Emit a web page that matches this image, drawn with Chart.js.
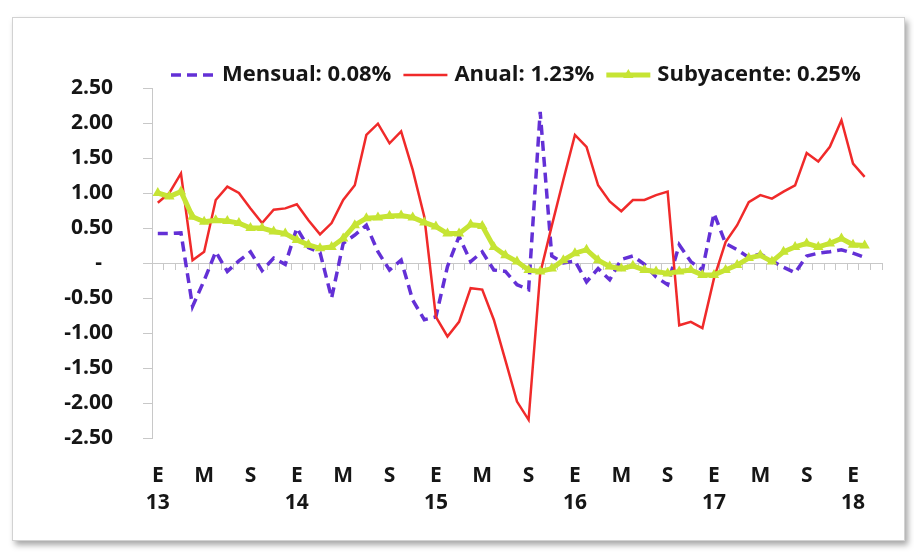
<!DOCTYPE html>
<html lang="es">
<head>
<meta charset="utf-8">
<title>Inflación mensual, anual y subyacente</title>
<script src="https://cdn.jsdelivr.net/npm/chart.js@4.4.1/dist/chart.umd.min.js"></script>
<style>
  html, body { margin: 0; padding: 0; background: #fff; }
  body { width: 914px; height: 559px; position: relative; overflow: hidden; }
  #marco {
    position: absolute; left: 12px; top: 17px; width: 891px; height: 522px;
    border: 1px solid #d2d2d2; background: #fff;
    box-shadow: 3px 4px 6px rgba(0, 0, 0, 0.35);
  }
  #grafica { position: absolute; left: 0; top: 0; }
</style>
</head>
<body>
<div id="marco"></div>
<canvas id="grafica" width="914" height="559"></canvas>
<script>
// meses ene-2013 .. feb-2018 (la última categoría, mar-18, queda vacía)
const meses = ['E', 'F', 'M', 'A', 'M', 'J', 'J', 'A', 'S', 'O', 'N', 'D'];
const anios = ['13', '14', '15', '16', '17', '18'];
const totalMeses = 63;

const mensual = [
  0.42, 0.42, 0.43, -0.62, -0.25, 0.16, -0.12, 0.03, 0.16, -0.11, 0.07, -0.02,
  0.50, 0.22, 0.15, -0.50, 0.28, 0.40, 0.54, 0.16, -0.10, 0.04, -0.53, -0.81,
  -0.77, -0.05, 0.38, 0.02, 0.16, -0.10, -0.12, -0.31, -0.38, 2.16, 0.10, 0.00,
  0.03, -0.27, -0.08, -0.24, 0.05, 0.10, -0.02, -0.20, -0.31, 0.26, 0.02, -0.10,
  0.71, 0.28, 0.19, 0.08, 0.13, 0.03, -0.06, -0.14, 0.10, 0.14, 0.16, 0.19,
  0.14, 0.08
];

const anual = [
  0.86, 1.00, 1.28, 0.04, 0.16, 0.90, 1.09, 1.00, 0.78, 0.57, 0.76, 0.78,
  0.84, 0.61, 0.41, 0.57, 0.90, 1.11, 1.83, 1.99, 1.71, 1.88, 1.33, 0.66,
  -0.77, -1.05, -0.84, -0.36, -0.38, -0.81, -1.39, -1.98, -2.24, -0.15, 0.53, 1.19,
  1.83, 1.66, 1.11, 0.88, 0.74, 0.90, 0.90, 0.97, 1.02, -0.89, -0.84, -0.93,
  -0.22, 0.30, 0.54, 0.87, 0.97, 0.92, 1.02, 1.11, 1.57, 1.45, 1.66, 2.04,
  1.42, 1.23
];

const subyacente = [
  1.00, 0.95, 1.02, 0.66, 0.59, 0.61, 0.60, 0.57, 0.50, 0.50, 0.45, 0.42,
  0.33, 0.26, 0.21, 0.23, 0.35, 0.54, 0.64, 0.65, 0.67, 0.68, 0.65, 0.58,
  0.52, 0.42, 0.42, 0.55, 0.53, 0.23, 0.11, 0.02, -0.10, -0.12, -0.08, 0.04,
  0.14, 0.19, 0.04, -0.05, -0.08, -0.04, -0.10, -0.12, -0.15, -0.12, -0.10, -0.17,
  -0.17, -0.10, -0.03, 0.07, 0.11, 0.02, 0.16, 0.23, 0.28, 0.23, 0.28, 0.35,
  0.26, 0.25
];

const etiquetas = ['Mensual: 0.08%', 'Anual: 1.23%', 'Subyacente: 0.25%'];

const categorias = [];
for (let i = 0; i < totalMeses; i++) {
  categorias.push(meses[i % 12] + '-' + anios[Math.floor(i / 12)]);
}

const fuente = "'Open Sans', sans-serif";
const gris = '#c8c8c8';
const texto = '#161616';
const morado = '#6330d6';
const rojo = '#f02a2a';
const lima = '#c6e434';

// leyenda dibujada a mano: la de Chart.js no pinta línea discontinua + marcador
const leyendaLinea = {
  id: 'leyendaLinea',
  afterDraw(chart) {
    const ctx = chart.ctx;
    const y = 75;
    let x = 171;
    ctx.save();
    ctx.font = `bold 22px ${fuente}`;
    ctx.textBaseline = 'middle';
    chart.data.datasets.forEach(ds => {
      ctx.save();
      ctx.strokeStyle = ds.borderColor;
      ctx.lineWidth = ds.borderWidth;
      ctx.setLineDash(ds.borderDash || []);
      ctx.beginPath();
      ctx.moveTo(x, y);
      ctx.lineTo(x + 44, y);
      ctx.stroke();
      if (ds.pointRadius > 0) {
        ctx.setLineDash([]);
        ctx.fillStyle = ds.pointBackgroundColor;
        Chart.helpers.drawPoint(ctx, {
          pointStyle: ds.pointStyle, radius: ds.pointRadius, rotation: 0, borderWidth: 0
        }, x + 22, y);
      }
      ctx.restore();
      x += 51;
      ctx.fillStyle = texto;
      ctx.fillText(ds.label, x, y);
      x += ctx.measureText(ds.label).width + 12;
    });
    ctx.restore();
  }
};

new Chart(document.getElementById('grafica'), {
  type: 'line',
  data: {
    labels: categorias,
    datasets: [
      {
        label: etiquetas[0],
        data: mensual,
        borderColor: morado,
        borderWidth: 3.5,
        borderDash: [10, 6],
        pointRadius: 0,
        tension: 0,
        order: 3
      },
      {
        label: etiquetas[1],
        data: anual,
        borderColor: rojo,
        borderWidth: 2.5,
        pointRadius: 0,
        tension: 0,
        order: 2
      },
      {
        label: etiquetas[2],
        data: subyacente,
        borderColor: lima,
        backgroundColor: lima,
        borderWidth: 5,
        pointStyle: 'triangle',
        pointRadius: 6,
        pointBackgroundColor: lima,
        pointBorderWidth: 0,
        tension: 0,
        order: 1
      }
    ]
  },
  options: {
    responsive: false,
    animation: false,
    layout: {
      padding: { top: 88, right: 32, bottom: 0, left: 0 }
    },
    plugins: {
      legend: { display: false },
      tooltip: { enabled: false }
    },
    scales: {
      x: {
        type: 'category',
        offset: true,
        grid: { display: false },
        border: { display: false },
        afterFit: scale => { scale.height = 121; },
        ticks: {
          autoSkip: false,
          maxRotation: 0,
          minRotation: 0,
          padding: 17,
          color: texto,
          font: { family: fuente, size: 21, weight: 'bold', lineHeight: 1.28 },
          callback: function(value, index) {
            if (index % 4 !== 0) return '';
            return [meses[index % 12], index % 12 === 0 ? anios[index / 12] : ''];
          }
        }
      },
      x2: {
        type: 'category',
        position: { y: 0 },
        offset: true,
        grid: {
          offset: true,
          drawOnChartArea: false,
          drawTicks: true,
          tickLength: 6,
          color: gris
        },
        border: { color: gris, width: 1 },
        ticks: { display: false, autoSkip: false }
      },
      y: {
        min: -2.5,
        max: 2.5,
        afterFit: scale => { scale.width = 152; },
        grid: {
          drawOnChartArea: false,
          drawTicks: true,
          tickLength: 9,
          color: gris
        },
        border: { color: gris, width: 1 },
        ticks: {
          stepSize: 0.5,
          padding: 30,
          color: texto,
          font: { family: fuente, size: 21, weight: 'bold' },
          callback: value => value === 0 ? '-  ' : value.toFixed(2)
        }
      }
    }
  },
  plugins: [leyendaLinea]
});
</script>
</body>
</html>
